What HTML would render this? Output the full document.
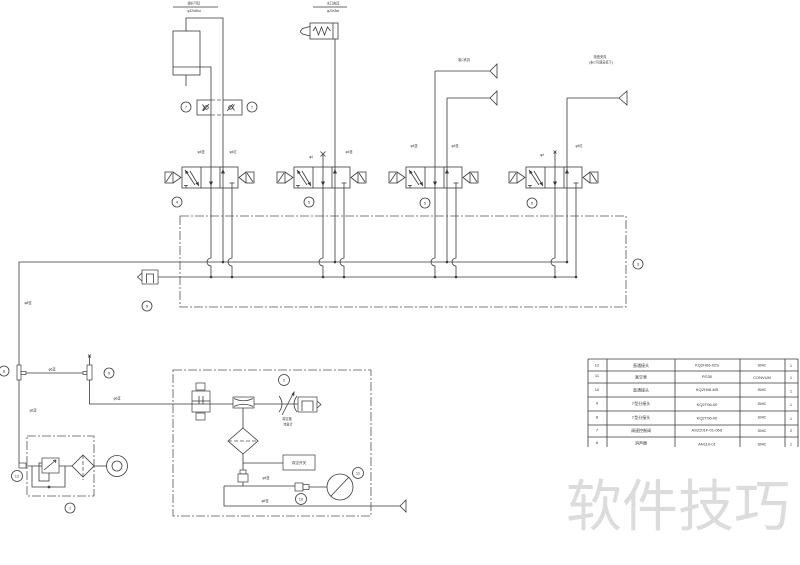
<!DOCTYPE html>
<html><head><meta charset="utf-8">
<style>
html,body{margin:0;padding:0;background:#fff;}
svg{display:block;}
text{font-family:"Liberation Sans","Noto Sans CJK SC",sans-serif;fill:#333;}
.s{fill:none;stroke:#3a3a3a;stroke-width:0.8;}
.d{fill:none;stroke:#555;stroke-width:0.8;stroke-dasharray:9 2 2 2;}
.d2{fill:none;stroke:#555;stroke-width:0.8;stroke-dasharray:4 2;}
.f{fill:#3a3a3a;stroke:none;}
.c{fill:#fff;stroke:#3a3a3a;stroke-width:0.7;}
.t{font-size:3.2px;text-anchor:middle;}
.n{font-size:4px;text-anchor:middle;}
.tb{font-size:4px;text-anchor:middle;fill:#444;}
</style></head><body>
<svg width="800" height="565" viewBox="0 0 800 565" xmlns="http://www.w3.org/2000/svg">
<defs>
<g id="valve">
 <rect class="s" x="182" y="167" width="56" height="21"/>
 <path class="s" d="M201 167V188M220 167V188"/>
 <path class="s" d="M185 170L195 185M190 171L199 186"/>
 <path class="f" d="M185 170L188.7 172.3L185.7 174.3Z"/>
 <path class="f" d="M199 186L198.5 181.6L195.4 183.5Z"/>
 <path class="s" d="M184 185.5H188M186 185.5V188"/>
 <path class="s" d="M232 183V188M229.5 183H234.5"/>
 <path class="f" d="M211 186L209 181.5H213Z"/>
 <path class="f" d="M223 169L221 173.5H225Z"/>
 <rect class="s" x="165" y="172" width="8" height="11"/>
 <path class="s" d="M166 182L172 173"/>
 <path class="s" d="M173 172L181 177.5L173 183"/>
 <rect class="s" x="246" y="172" width="8" height="11"/>
 <path class="s" d="M253 182L247 173"/>
 <path class="s" d="M246 172L239 177.5L246 183"/>
</g>
</defs>

<!-- top-left cylinder -->
<path class="s" d="M173 7H218M313 7H347"/>
<text class="t" x="194" y="4.5">提升气缸</text>
<text class="t" x="194" y="12">φ32x50st</text>
<text class="t" x="333" y="4.5">水口夹具</text>
<text class="t" x="333" y="12">φ20X5st</text>
<rect class="s" x="173" y="31" width="27" height="44"/>
<path class="s" d="M173 67H200M186 75V86"/>
<path class="s" d="M186 31V18H223V262"/>
<path class="s" d="M200 67H211V258A4 4 0 0 0 211 266V277"/>

<!-- speed control block -->
<path class="s" d="M211 100H197V115H211M223 100H242V115H223"/>
<path class="d2" d="M211 100H223M211 115H223"/>
<circle class="s" cx="206.5" cy="107.5" r="1.8"/>
<path class="s" d="M202.5 104.5L204.5 107.5L202.5 110.5M203 111L209 104"/>
<circle class="s" cx="230.5" cy="107.5" r="1.8"/>
<path class="s" d="M234.5 104.5L232.5 107.5L234.5 110.5M227 111L233 104"/>
<circle class="s" cx="186" cy="107" r="5"/><text class="n" x="186" y="108.5">7</text>
<circle class="s" cx="252" cy="107" r="5"/><text class="n" x="252" y="108.5">7</text>

<!-- spring cylinder -->
<rect class="s" x="310" y="23" width="28" height="16"/>
<path class="s" d="M333 23V39"/>
<path class="s" d="M313 31L315.5 27L318.5 35L321.5 27L324.5 35L327.5 27L330.5 31"/>
<path class="s" d="M310 26.5L302.5 28.5L300.5 31V32L302.5 34L310 36"/>

<!-- valves -->
<use href="#valve"/>
<use href="#valve" transform="translate(112,0)"/>
<use href="#valve" transform="translate(224,0)"/>
<use href="#valve" transform="translate(344,0)"/>

<text class="t" x="201" y="153">φ4蓝</text>
<text class="t" x="233" y="153">φ4红</text>
<text class="t" x="311" y="158">φ4</text>
<text class="t" x="349" y="153">φ4蓝</text>
<text class="t" x="414" y="147">φ4蓝</text>
<text class="t" x="455" y="147">φ4蓝</text>
<text class="t" x="542" y="156">φ4</text>
<text class="t" x="579" y="147">φ4红</text>

<circle class="s" cx="177" cy="202" r="5"/><text class="n" x="177" y="203.5">4</text>
<circle class="s" cx="309" cy="202" r="5"/><text class="n" x="309" y="203.5">5</text>
<circle class="s" cx="425" cy="203" r="5"/><text class="n" x="425" y="204.5">5</text>
<circle class="s" cx="532" cy="203" r="5"/><text class="n" x="532" y="204.5">5</text>

<!-- valve 2 pipes -->
<path class="s" d="M320.5 151.5L325.5 156.5M325.5 151.5L320.5 156.5"/>
<path class="s" d="M323 154V258A4 4 0 0 0 323 266V277"/>
<path class="s" d="M335 39V262"/>
<path class="s" d="M344 188V258A4 4 0 0 0 344 266V277"/>
<path class="s" d="M232 188V258A4 4 0 0 0 232 266V277"/>

<!-- valve 3 pipes -->
<text class="t" x="464" y="61">吸C夹具</text>
<path class="s" d="M435 71H490M435 71V258A4 4 0 0 0 435 266V277"/>
<path class="s" d="M447 98H490M447 98V262"/>
<path class="s" d="M456 188V258A4 4 0 0 0 456 266V277"/>
<path class="s" d="M490 71L497 64V78Z"/>
<path class="s" d="M490 98L497 91V105Z"/>

<!-- valve 4 pipes -->
<text class="t" x="600" y="58">吸盘夹具</text>
<text class="t" x="601" y="63.5">(未C可调高低下)</text>
<path class="s" d="M553.5 150.5L556.5 153.5M556.5 150.5L553.5 153.5"/>
<path class="s" d="M555 152V258A4 4 0 0 0 555 266V277"/>
<path class="s" d="M567 98H619M567 98V262"/>
<path class="s" d="M619 98L627 91V105Z"/>
<path class="s" d="M576 188V277"/>

<!-- manifold lines -->
<path class="s" d="M19 365V262H567"/>
<path class="s" d="M158 277H576"/>
<g class="f">
<circle cx="223" cy="262" r="1.3"/><circle cx="211" cy="277" r="1.3"/><circle cx="232" cy="277" r="1.3"/>
<circle cx="335" cy="262" r="1.3"/><circle cx="323" cy="277" r="1.3"/><circle cx="344" cy="277" r="1.3"/>
<circle cx="447" cy="262" r="1.3"/><circle cx="435" cy="277" r="1.3"/><circle cx="456" cy="277" r="1.3"/>
<circle cx="567" cy="262" r="1.3"/><circle cx="555" cy="277" r="1.3"/><circle cx="576" cy="277" r="1.3"/>
</g>
<rect class="d" x="180" y="216" width="446" height="91"/>
<circle class="s" cx="638" cy="264" r="5"/><text class="n" x="638" y="265.5">3</text>

<!-- left silencer -->
<rect class="c" x="142" y="270" width="16" height="14"/>
<path class="s" d="M146.5 283V274H153.5V283M142 273L137.5 277L142 281"/>
<circle class="s" cx="147" cy="306" r="5"/><text class="n" x="147" y="307.5">6</text>
<text class="t" x="28" y="304">φ8蓝</text>

<!-- T fittings -->
<rect class="c" x="17" y="365" width="4" height="15"/>
<rect class="c" x="21" y="371.5" width="5" height="3"/>
<path class="s" d="M26 373H83"/>
<rect class="c" x="83" y="371.5" width="4" height="3"/>
<rect class="c" x="87" y="365" width="5" height="15"/>
<path class="s" d="M88 354.5L91 357.5M91 354.5L88 357.5M89.5 356V365"/>
<path class="s" d="M89.5 380V404H298"/>
<circle class="s" cx="4" cy="371" r="5"/><text class="n" x="4" y="372.5">8</text>
<circle class="s" cx="109" cy="373" r="5"/><text class="n" x="109" y="374.5">9</text>
<text class="t" x="52" y="370.5">φ6蓝</text>
<text class="t" x="117" y="399.5">φ6蓝</text>
<text class="t" x="33" y="411.5">φ6蓝</text>

<!-- FRL -->
<path class="s" d="M19 380V463"/>
<rect class="c" x="19" y="463" width="7" height="5"/>
<path class="s" d="M26 466H72"/>
<path class="s" d="M32 466V487H65V466"/>
<circle class="s" cx="49" cy="487" r="1"/>
<rect class="s" x="39" y="463" width="10" height="18"/>
<rect class="c" x="42" y="458" width="17" height="15"/>
<path class="s" d="M44 470L56 460M56 460L53 460.5M56 460L55.5 463"/>
<path class="s" d="M83 455L94 466L83 477L72 466Z"/>
<path class="d2" d="M83 455V480"/>
<path class="s" d="M94 466H106.5"/>
<circle class="s" cx="117" cy="466" r="10.5"/>
<circle class="s" cx="117" cy="466" r="5"/>
<rect class="d" x="27" y="436" width="67" height="60"/>
<circle class="s" cx="17" cy="476" r="5.5"/><text class="n" x="17" y="477.5">12</text>
<circle class="s" cx="70" cy="508" r="5"/><text class="n" x="70" y="509.5">1</text>

<!-- vacuum box -->
<rect class="d" x="173" y="370" width="198" height="146"/>
<circle class="s" cx="284" cy="380" r="5.5"/><text class="n" x="284" y="381.5">2</text>
<rect class="c" x="196" y="383" width="9" height="7"/>
<rect class="c" x="196" y="413" width="9" height="7"/>
<rect class="c" x="192" y="391" width="18" height="21"/>
<path class="s" d="M192 401H210M199 396V404M203 396V404M192 404H210"/>
<rect class="c" x="233" y="397" width="21" height="11"/>
<path class="s" d="M234 398.5Q243.5 403 253 398.5M234 406.5Q243.5 402 253 406.5"/>
<path class="s" d="M279 396Q285 404 279 412M297 396Q291 404 297 412"/>
<path class="s" d="M282 415L294 392"/>
<path class="f" d="M294.5 391L291.5 394.5L294.2 396Z"/>
<text class="t" x="287" y="420">真空度</text>
<text class="t" x="288" y="425.5">流量计</text>
<rect class="c" x="298" y="397" width="19" height="15"/>
<path class="s" d="M302 411V401H313V411M317 401L321 404.5L317 408"/>
<path class="s" d="M243 408V428"/>
<path class="s" d="M243 428L258 441L243 454L228 441Z"/>
<path class="d2" d="M228 441H258"/>
<path class="s" d="M243 454V470M243 463H283"/>
<rect class="c" x="283" y="455" width="32" height="15"/>
<text class="t" x="299" y="464" style="font-size:3.6px">真空开关</text>
<rect class="c" x="240" y="470" width="6" height="4"/>
<rect class="c" x="238" y="474" width="10" height="8"/>
<path class="s" d="M243 482V486M224 486H295M224 486V506H400"/>
<path class="s" d="M400 506L406 500V512Z"/>
<rect class="c" x="295" y="483" width="8" height="8"/>
<rect class="c" x="303" y="484.5" width="6" height="5"/>
<path class="s" d="M309 487H327"/>
<circle class="s" cx="340" cy="487" r="13"/>
<path class="s" d="M331 496L349 477"/>
<circle class="s" cx="358" cy="473" r="5.5"/><text class="n" x="358" y="474.5">11</text>
<circle class="s" cx="301" cy="499" r="5.5"/><text class="n" x="301" y="500.5">10</text>
<text class="t" x="266" y="479">φ4蓝</text>
<text class="t" x="265" y="502">φ6蓝</text>

<!-- table -->
<path class="s" d="M588 359H798M588 371H798M588 383H798M588 397H798M588 411H798M588 425H798M588 437H798"/>
<path class="s" d="M588 359V447M607 359V447M675 359V447M740 359V447M785 359V447M798 359V447"/>
<g class="tb">
<text x="597" y="366.5">12</text><text x="641" y="367">直通接头</text><text x="707" y="366.5">KQ2H06-02S</text><text x="762" y="366.5">SMC</text><text x="791" y="367">1</text>
<text x="597" y="377">11</text><text x="641" y="378.5">真空表</text><text x="707" y="378">PG30</text><text x="762" y="379">CONVUM</text><text x="791" y="379">1</text>
<text x="597" y="391">10</text><text x="641" y="391.5">直通接头</text><text x="707" y="391">KQ2H06-M5</text><text x="762" y="391">SMC</text><text x="791" y="392.5">1</text>
<text x="597" y="404.5">9</text><text x="641" y="405">T型分接头</text><text x="707" y="406">KQ2T06-00</text><text x="762" y="405">SMC</text><text x="791" y="406">1</text>
<text x="597" y="418.5">8</text><text x="641" y="419">T型分接头</text><text x="707" y="419.5">KQ2T06-00</text><text x="762" y="418.5">SMC</text><text x="791" y="420">1</text>
<text x="597" y="431.5">7</text><text x="641" y="432">调速控制阀</text><text x="707" y="431.5">AS2201F-01-06S</text><text x="762" y="432">SMC</text><text x="791" y="432">2</text>
<text x="597" y="444">6</text><text x="641" y="444.5">消声器</text><text x="707" y="445.5">AN110-01</text><text x="762" y="445.5">SMC</text><text x="791" y="445.5">1</text>
</g>

<!-- watermark -->
<text x="566" y="526" style="font-family:'Liberation Sans','Noto Sans CJK SC',sans-serif;font-size:56px;fill:#dcdcdc;">软件技巧</text>
</svg>
</body></html>
